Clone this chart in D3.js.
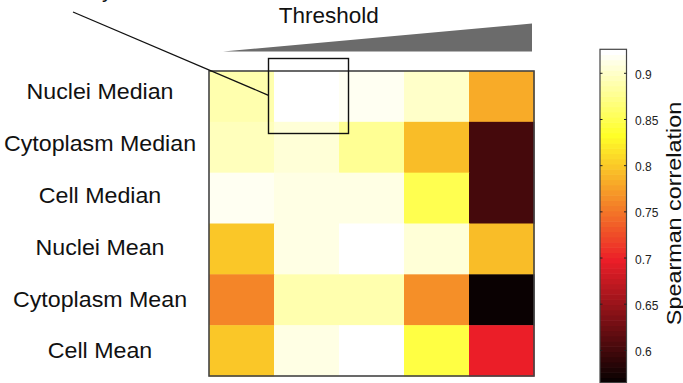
<!DOCTYPE html>
<html>
<head>
<meta charset="utf-8">
<script src="https://cdn.jsdelivr.net/npm/d3@7"></script>
<style>
  html, body { margin: 0; padding: 0; background: #fff; }
  svg { display: block; font-family: "Liberation Sans", Arial, sans-serif; }
</style>
</head>
<body>
<svg id="chart" width="683" height="383"></svg>
<script>
// ---- data ----
const rowLabels = ["Nuclei Median", "Cytoplasm Median", "Cell Median", "Nuclei Mean", "Cytoplasm Mean", "Cell Mean"];
const thresholdLevels = [1, 2, 3, 4, 5];
const nucleiMedian    = [0.889, 0.924, 0.918, 0.901, 0.782];
const cytoplasmMedian = [0.895, 0.906, 0.878, 0.793, 0.601];
const cellMedian      = [0.920, 0.910, 0.913, 0.850, 0.600];
const nucleiMean      = [0.799, 0.913, 0.923, 0.907, 0.795];
const cytoplasmMean   = [0.760, 0.888, 0.887, 0.765, 0.560];
const cellMean        = [0.801, 0.912, 0.924, 0.844, 0.697];
const colorTicks = [0.6, 0.65, 0.7, 0.75, 0.8, 0.85, 0.9];
const colorDomain = [0.565, 0.926];

const matrix = [nucleiMedian, cytoplasmMedian, cellMedian, nucleiMean, cytoplasmMean, cellMean];

// ---- MATLAB "hot" 64-level colormap (with the slight tint of the print) ----
function hot64(t) {
  let idx = Math.floor(t * 64);
  idx = Math.max(0, Math.min(63, idx));
  const r = idx < 24 ? (idx + 1) / 24 : 1;
  const g = idx < 24 ? 0 : (idx < 48 ? (idx - 23) / 24 : 1);
  const b = idx < 48 ? 0 : (idx - 47) / 16;
  const R = 255 * r - 20 * (1 - g) * r;
  const G = 255 * g + 30 * r * (1 - g);
  const B = 255 * b + 40 * r * (1 - b);
  return d3.rgb(R, G, B).toString();
}
const norm = d3.scaleLinear().domain(colorDomain).range([0, 1]).clamp(true);
const color = v => hot64(norm(v));

const svg = d3.select("#chart");

// ---- heatmap ----
const x = d3.scaleBand().domain(thresholdLevels).range([209, 534]);
const y = d3.scaleBand().domain(rowLabels).range([71, 376]);

const cells = [];
matrix.forEach((row, i) => row.forEach((v, j) => cells.push({row: rowLabels[i], col: thresholdLevels[j], v})));

svg.append("g").selectAll("rect").data(cells).join("rect")
  .attr("x", d => x(d.col))
  .attr("y", d => y(d.row))
  .attr("width", x.bandwidth() + 0.5)
  .attr("height", y.bandwidth() + 0.5)
  .attr("fill", d => color(d.v));

svg.append("rect")
  .attr("x", 209).attr("y", 71)
  .attr("width", 534 - 209).attr("height", 376 - 71)
  .attr("fill", "none").attr("stroke", "#444").attr("stroke-width", 1.6);

// row labels
const labelY = d3.scalePoint().domain(rowLabels).range([99.3, 358.3]);
svg.append("g").selectAll("text").data(rowLabels).join("text")
  .attr("transform", d => `translate(100,${labelY(d)}) scale(1.08,1)`)
  .attr("text-anchor", "middle")
  .attr("font-size", 21.5)
  .attr("fill", "#111")
  .text(d => d);

// cut-off caption fragment at top-left
svg.append("text")
  .attr("x", 102).attr("y", -3.5)
  .attr("font-size", 22)
  .attr("fill", "#111")
  .text("y");

// Threshold label and wedge
svg.append("text")
  .attr("x", 328.7).attr("y", 23.3)
  .attr("text-anchor", "middle")
  .attr("font-size", 22.5)
  .attr("fill", "#111")
  .text("Threshold");

svg.append("path")
  .attr("d", d3.line()([[223, 51.5], [532, 23.5], [532, 51.5]]) + "Z")
  .attr("fill", "#6b6b6b");

// highlight box and pointer line
svg.append("rect")
  .attr("x", 268.5).attr("y", 58.5)
  .attr("width", 80).attr("height", 75)
  .attr("fill", "none").attr("stroke", "#111").attr("stroke-width", 1.4);

svg.append("line")
  .attr("x1", 73).attr("y1", 12)
  .attr("x2", 268.5).attr("y2", 95.3)
  .attr("stroke", "#111").attr("stroke-width", 1.3);

// ---- colorbar ----
const cbX0 = 600, cbX1 = 626.5;
const cy = d3.scaleLinear().domain(colorDomain).range([382.7, 49.3]);
const levels = d3.range(64);
const step = (colorDomain[1] - colorDomain[0]) / 64;
svg.append("g").selectAll("rect").data(levels).join("rect")
  .attr("x", cbX0)
  .attr("width", cbX1 - cbX0)
  .attr("y", i => cy(colorDomain[0] + (i + 1) * step))
  .attr("height", i => cy(colorDomain[0] + i * step) - cy(colorDomain[0] + (i + 1) * step) + 0.6)
  .attr("fill", i => hot64((i + 0.5) / 64));

svg.append("rect")
  .attr("x", cbX0).attr("y", cy(colorDomain[1]))
  .attr("width", cbX1 - cbX0).attr("height", cy(colorDomain[0]) - cy(colorDomain[1]))
  .attr("fill", "none").attr("stroke", "#444").attr("stroke-width", 1.2);

const tickG = svg.append("g").selectAll("g").data(colorTicks).join("g")
  .attr("transform", d => `translate(0,${cy(d)})`);
tickG.append("line").attr("x1", cbX0).attr("x2", cbX0 + 2.5).attr("stroke", "#222").attr("stroke-width", 1);
tickG.append("line").attr("x1", cbX1 - 2.5).attr("x2", cbX1).attr("stroke", "#222").attr("stroke-width", 1);
tickG.append("text")
  .attr("x", 635).attr("y", 5.5)
  .attr("font-size", 12)
  .attr("fill", "#222")
  .text(d => String(d));

svg.append("text")
  .attr("transform", "translate(680.5,213.5) rotate(-90) scale(1.14,1)")
  .attr("text-anchor", "middle")
  .attr("font-size", 20.5)
  .attr("fill", "#111")
  .text("Spearman correlation");
</script>
</body>
</html>
